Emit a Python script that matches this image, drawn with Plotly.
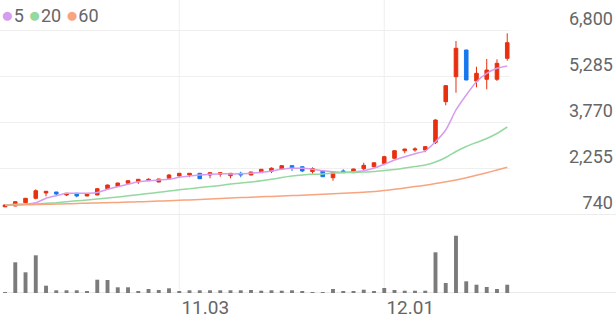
import plotly.graph_objects as go

dates = ["2025-10-02", "2025-10-10", "2025-10-13", "2025-10-14", "2025-10-15", "2025-10-16",
         "2025-10-17", "2025-10-20", "2025-10-21", "2025-10-22", "2025-10-23", "2025-10-24",
         "2025-10-27", "2025-10-28", "2025-10-29", "2025-10-30", "2025-10-31", "2025-11-03",
         "2025-11-04", "2025-11-05", "2025-11-06", "2025-11-07", "2025-11-10", "2025-11-11",
         "2025-11-12", "2025-11-13", "2025-11-14", "2025-11-17", "2025-11-18", "2025-11-19",
         "2025-11-20", "2025-11-21", "2025-11-24", "2025-11-25", "2025-11-26", "2025-11-27",
         "2025-11-28", "2025-12-01", "2025-12-02", "2025-12-03", "2025-12-04", "2025-12-05",
         "2025-12-08", "2025-12-09", "2025-12-10", "2025-12-11", "2025-12-12", "2025-12-15",
         "2025-12-16", "2025-12-17"]

open_ = [1010, 1036, 1145, 1290, 1465, 1497, 1399, 1455, 1366, 1399,
         1606, 1685, 1784, 1837, 1870, 1827, 1949, 2024, 2057, 2113,
         2057, 2080, 2034, 2113, 2057, 2133, 2180, 2255, 2365, 2330,
         2170, 2199, 1968, 2190, 2135, 2265, 2330, 2440, 2607, 2855,
         2880, 2880, 3134, 4471, 5294, 6173, 5153, 5209, 5209, 5900]
high = [1080, 1200, 1300, 1586, 1530, 1500, 1460, 1460, 1440, 1630,
        1740, 1800, 1880, 1900, 1949, 1930, 2090, 2120, 2120, 2120,
        2140, 2150, 2120, 2166, 2160, 2250, 2310, 2380, 2370, 2340,
        2310, 2210, 2160, 2245, 2265, 2460, 2470, 2690, 2870, 2920,
        2970, 3000, 3890, 5010, 6470, 6180, 5623, 5877, 5867, 6723]
low = [1000, 1030, 1140, 1257, 1355, 1399, 1366, 1323, 1360, 1390,
       1600, 1680, 1780, 1761, 1865, 1820, 1945, 2020, 1982, 1930,
       1949, 2001, 1949, 1982, 2050, 2130, 2120, 2250, 2190, 2150,
       2100, 1995, 1870, 2130, 2130, 2200, 2320, 2410, 2600, 2770,
       2825, 2805, 3075, 4352, 4767, 5180, 4945, 4879, 5153, 5821]
close = [1070, 1178, 1290, 1540, 1520, 1432, 1455, 1366, 1432, 1606,
         1728, 1794, 1870, 1916, 1916, 1926, 2057, 2113, 2113, 1935,
         2133, 2133, 2113, 2057, 2156, 2245, 2280, 2365, 2278, 2190,
         2270, 2001, 2146, 2135, 2255, 2375, 2460, 2660, 2857, 2913,
         2913, 2990, 3868, 5000, 6229, 5186, 5406, 5515, 5735, 6414]

ma5 = [1069, 1092, 1102, 1145, 1290, 1376, 1455, 1455, 1455, 1480,
       1586, 1672, 1751, 1837, 1865, 1893, 1916, 1982, 2024, 2057,
       2080, 2100, 2090, 2100, 2113, 2146, 2189, 2245, 2278, 2278,
       2245, 2199, 2166, 2146, 2166, 2199, 2278, 2410, 2551, 2660,
       2759, 2854, 3154, 3539, 4198, 4692, 5130, 5407, 5572, 5648]
ma20 = [1069, 1079, 1092, 1102, 1125, 1145, 1175, 1208, 1234, 1267,
        1300, 1333, 1372, 1408, 1448, 1487, 1530, 1570, 1603, 1646,
        1679, 1711, 1761, 1794, 1827, 1866, 1916, 1975, 2024, 2057,
        2080, 2090, 2123, 2133, 2140, 2156, 2172, 2205, 2238, 2288,
        2337, 2387, 2485, 2634, 2831, 2996, 3128, 3259, 3424, 3638]
ma60 = [1059, 1066, 1076, 1086, 1092, 1102, 1109, 1119, 1129, 1135,
        1145, 1155, 1165, 1175, 1185, 1198, 1211, 1224, 1237, 1254,
        1267, 1283, 1297, 1313, 1326, 1339, 1353, 1366, 1379, 1392,
        1408, 1425, 1438, 1455, 1471, 1491, 1511, 1547, 1586, 1629,
        1675, 1721, 1774, 1833, 1893, 1965, 2047, 2133, 2222, 2311]

volume = [50000, 3070000, 2070000, 3770000, 730000, 270000, 270000, 270000, 170000, 1330000,
          1300000, 570000, 570000, 170000, 400000, 300000, 470000, 170000, 270000, 270000,
          270000, 270000, 270000, 270000, 300000, 230000, 270000, 230000, 270000, 200000,
          100000, 70000, 400000, 170000, 170000, 330000, 170000, 500000, 300000, 230000,
          230000, 230000, 4070000, 1000000, 5730000, 1170000, 830000, 600000, 400000, 830000]

price_ticks = [740, 2255, 3770, 5285, 6800]
date_ticks = ["2025-11-03", "2025-12-01"]
date_tick_text = ["11.03", "12.01"]
ma_names = ["5", "20", "60"]

UP = "#e8300f"
DOWN = "#1677ee"
MA_COLORS = ["#d69cf0", "#93d9a0", "#f8a47e"]
GRID = "#efefef"
TEXT = "#666666"
FONT = "Roboto"

fig = go.Figure()

fig.add_trace(go.Candlestick(
    x=dates, open=open_, high=high, low=low, close=close,
    increasing=dict(line=dict(color=UP, width=1), fillcolor=UP),
    decreasing=dict(line=dict(color=DOWN, width=1), fillcolor=DOWN),
    whiskerwidth=0, showlegend=False, xaxis="x", yaxis="y"))

for name, vals, col in zip(ma_names, [ma5, ma20, ma60], MA_COLORS):
    fig.add_trace(go.Scatter(x=dates, y=vals, mode="lines", name=name,
                             line=dict(color=col, width=1.5, shape="spline", smoothing=0.6),
                             showlegend=False, xaxis="x", yaxis="y"))

fig.add_trace(go.Bar(x=dates, y=volume, marker=dict(color="#7b7b7b", line=dict(width=0)),
                     width=0.38, showlegend=False, xaxis="x2", yaxis="y2"))

n = len(dates)
xr = [-0.49, n - 1 + 0.27]
dom = [0, 510 / 616]

shapes = []
for d in date_ticks:
    i = dates.index(d)
    shapes.append(dict(type="line", xref="x", yref="paper", x0=i, x1=i, y0=0, y1=1,
                       line=dict(color=GRID, width=1), layer="below"))
shapes.append(dict(type="line", xref="paper", yref="y", x0=0, x1=1, y0=price_ticks[0], y1=price_ticks[0],
                   line=dict(color="#e6e6e6", width=1.5), layer="below"))
shapes.append(dict(type="line", xref="paper", yref="y2", x0=0.005, x1=1, y0=0, y1=0,
                   line=dict(color="#e3e3e3", width=1.5), layer="below"))

legend_html = " ".join(
    f"<span style='color:{c};font-size:21px'>●</span>{nm}" for nm, c in zip(ma_names, MA_COLORS))

fig.update_layout(
    width=616, height=321,
    margin=dict(l=0, r=0, t=0, b=28, autoexpand=False),
    paper_bgcolor="white", plot_bgcolor="white",
    font=dict(family=FONT, color=TEXT, size=17),
    bargap=0.6, boxgap=0.5,
    shapes=shapes,
    annotations=[dict(text=legend_html, xref="paper", yref="paper", x=0.0, y=1.0,
                      xanchor="left", yanchor="top", showarrow=False, yshift=-1, xshift=-1,
                      font=dict(size=18, color=TEXT, family=FONT))],
    xaxis=dict(domain=dom, type="category", range=xr, showgrid=False, showticklabels=False,
               zeroline=False, rangeslider=dict(visible=False), anchor="y", fixedrange=True,
               automargin=False),
    yaxis=dict(domain=[78 / 293, 1], range=[740, 7820], tickvals=price_ticks,
               ticktext=[f"{v:,}" for v in price_ticks], showgrid=True, gridcolor=GRID, gridwidth=1,
               zeroline=False, anchor="free", position=0.995, side="left", automargin=False,
               ticklabelposition="outside top", ticks="", tickfont=dict(size=18, color=TEXT)),
    xaxis2=dict(domain=dom, type="category", range=xr, showgrid=False, zeroline=False,
                anchor="y2", matches="x", tickvals=date_ticks, ticktext=date_tick_text,
                automargin=False, ticks="", ticklabelshift=26, ticklabelstandoff=1,
                tickfont=dict(size=19, color=TEXT)),
    yaxis2=dict(domain=[0, 68 / 293], range=[0, 6800000], showgrid=False, zeroline=False,
                showticklabels=False, anchor="x2", automargin=False),
)

fig.write_html("out.html")
